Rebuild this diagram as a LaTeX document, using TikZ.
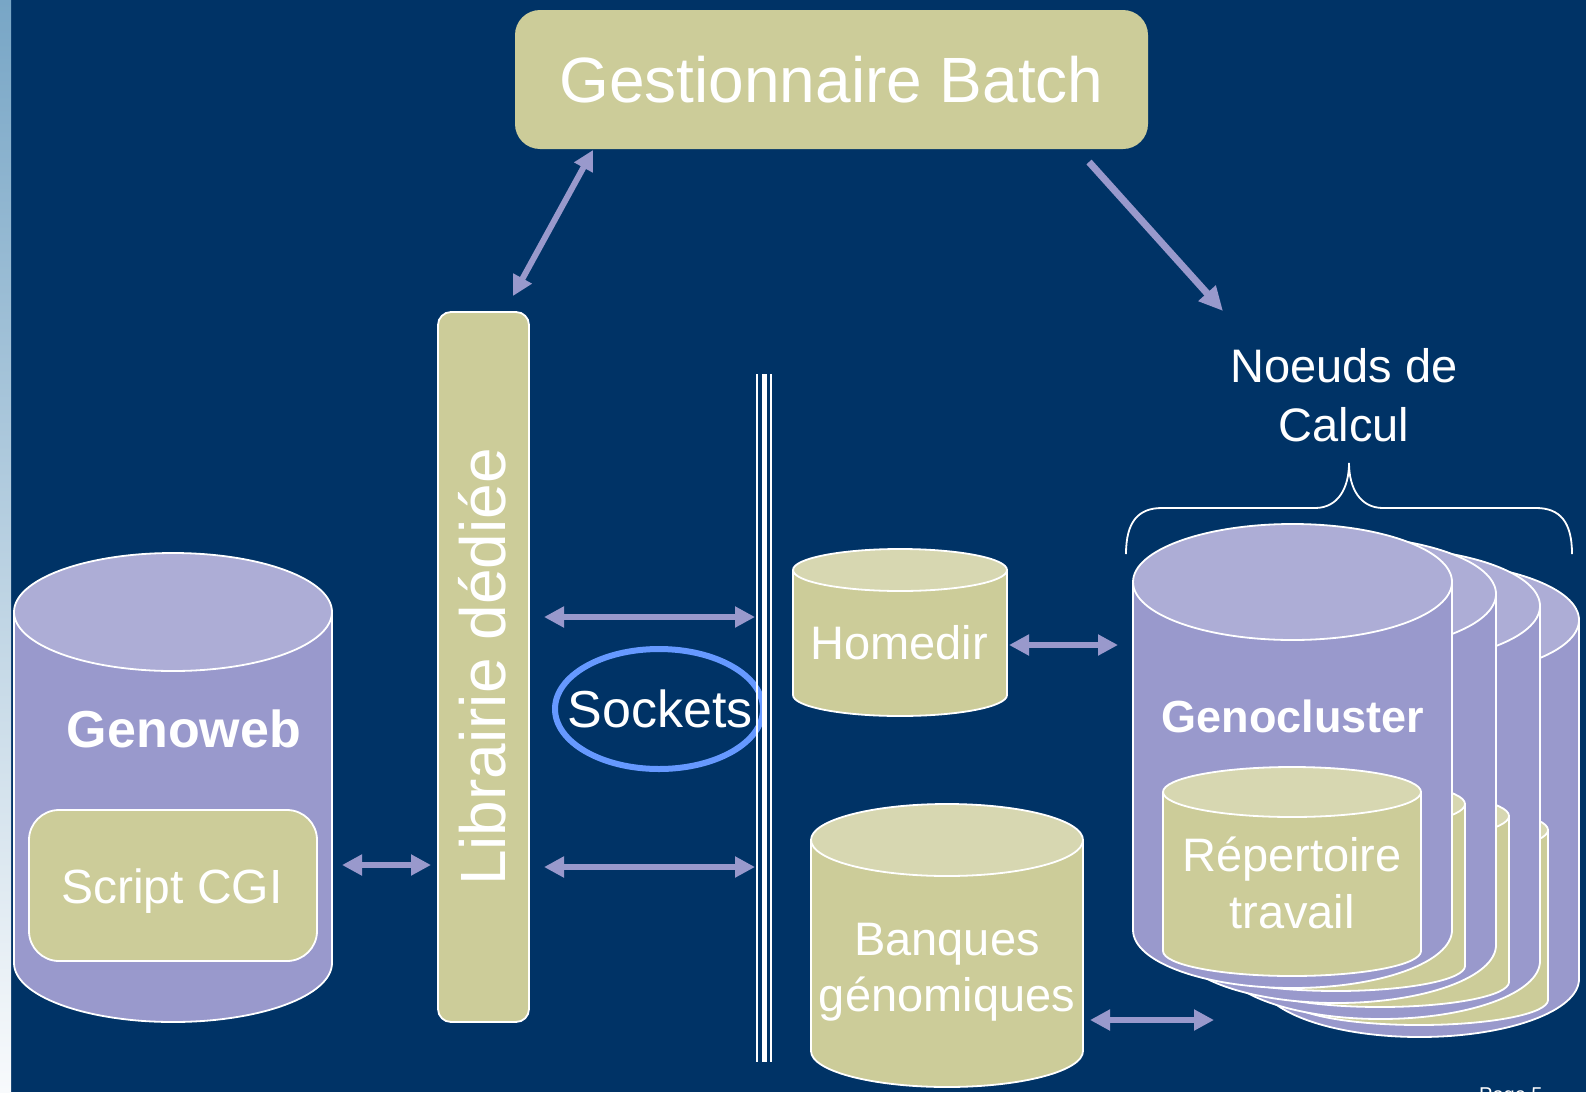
\documentclass[tikz,border=0pt]{standalone}
\usepackage{fontspec}
\setmainfont{Liberation Sans}
\usetikzlibrary{arrows.meta,shapes.geometric}
\definecolor{bg}{HTML}{003366}
\definecolor{lav}{HTML}{9999CC}
\definecolor{lavtop}{HTML}{ADADD6}
\definecolor{khaki}{HTML}{CCCC99}
\definecolor{khakitop}{HTML}{D7D7B1}
\definecolor{sockblue}{HTML}{6699FF}
\definecolor{stripetop}{HTML}{78A6C6}
\definecolor{stripebot}{HTML}{F8FAFC}
\newcommand{\fsz}[1]{\fontsize{#1}{#1}\selectfont}
% cylinder: cx, rx, y of top ellipse centre, y of bottom ellipse centre, ry, side colour, top colour
\newcommand{\cylinder}[7]{%
  \fill[#6] (#1-#2,#3) rectangle (#1+#2,#4);
  \fill[#6] (#1,#4) ellipse [x radius=#2, y radius=#5];
  \draw[outline] (#1-#2,#3) -- (#1-#2,#4) arc[start angle=180, end angle=0, x radius=#2, y radius=#5] -- (#1+#2,#3);
  \filldraw[outline, fill=#7] (#1,#3) ellipse [x radius=#2, y radius=#5];
}
\begin{document}
\begin{tikzpicture}[x=1pt,y=-1pt,
  outline/.style={draw=white, line width=1.8pt},
  arr/.style={draw=lav, line width=6pt, -{Triangle[length=20pt,width=20pt]}},
  darr/.style={draw=lav, line width=6pt, {Triangle[length=20pt,width=20pt]}-{Triangle[length=20pt,width=20pt]}},
  lbl/.style={text=white, inner sep=0pt},
  wall/.style={draw=white}
]
\useasboundingbox (0,0) rectangle (1586,1092);
\fill[bg] (0,0) rectangle (1586,1092);
\shade[top color=stripetop, bottom color=stripebot] (0,0) rectangle (11,1092);

% Gestionnaire Batch
\node[rectangle, rounded corners=25pt, fill=khaki, minimum width=633pt, minimum height=139pt,
      text=white, font=\fsz{64}, inner sep=0pt] (gest) at (831.5,79.5) {Gestionnaire Batch};

% Librairie dediee
\node[rectangle, rounded corners=13pt, fill=khaki, draw=white, line width=1.8pt,
      minimum width=91pt, minimum height=710pt, inner sep=0pt] (lib) at (483.5,667) {};
\node[lbl, rotate=90, anchor=base, font=\fsz{64}] (libtxt) at (505,667) {Librairie dédiée};

% Genoweb
\cylinder{173}{159}{612}{963}{59}{lav}{lavtop}
\node[lbl, anchor=base, font=\bfseries\fsz{52}] (genoweb) at (184,747) {Genoweb};
\node[rectangle, rounded corners=30pt, fill=khaki, draw=white, line width=1.8pt,
      minimum width=288pt, minimum height=151pt, inner sep=0pt] (cgi) at (173,885.5) {};
\node[lbl, anchor=base, font=\fsz{48}] (cgitxt) at (172,903) {Script CGI};

% Sockets
\node[ellipse, draw=sockblue, line width=6pt, minimum width=208pt, minimum height=120pt, inner sep=0pt] (sockring) at (659,709) {};
\node[lbl, font=\fsz{52}] (sock) at (660,708.5) {Sockets};

% wall (triple line)
\coordinate (wt) at (764,374);
\coordinate (wb) at (764,1062);
\draw[wall, line width=2pt] ([xshift=-7pt]wt) -- ([xshift=-7pt]wb);
\draw[wall, line width=5pt] (wt) -- (wb);
\draw[wall, line width=2pt] ([xshift=6.5pt]wt) -- ([xshift=6.5pt]wb);

% Homedir
\cylinder{900}{107}{570}{695}{21}{khaki}{khakitop}
\node[lbl, anchor=base, font=\fsz{47}] (homedir) at (899,659) {Homedir};

% Banques genomiques
\cylinder{947}{136}{840}{1051}{36}{khaki}{khakitop}
\node[lbl, align=center, font=\fontsize{47}{56}\selectfont] (banques) at (947,972) {Banques\\génomiques};

% Genocluster stack
\foreach \dx/\dy/\by in {127/38/49, 88/24/31, 44/12/15, 0/0/0} {
  \cylinder{1292.5+\dx}{159.5}{582+\dy}{930+\by}{58}{lav}{lavtop}
  \cylinder{1292+\dx}{129}{792+\dy}{951+\by}{25}{khaki}{khakitop}
}
\node[lbl, anchor=base, font=\bfseries\fsz{45}] (genocluster) at (1293,732) {Genocluster};
\node[lbl, align=center, font=\fontsize{47}{57}\selectfont] (rep) at (1292,883) {Répertoire\\travail};

% Noeuds de Calcul + brace
\node[lbl, align=center, font=\fontsize{47}{59}\selectfont] (noeuds) at (1344,395.5) {Noeuds de\\Calcul};
\draw[white, line width=1.8pt] (1126,554) .. controls (1126,522) and (1138,508) .. (1162,508)
  -- (1315,508) .. controls (1338,508) and (1349,488) .. (1349,463)
  .. controls (1349,488) and (1360,508) .. (1383,508)
  -- (1536,508) .. controls (1560,508) and (1572,522) .. (1572,554);

% Page number (cut off at the bottom edge, as in the reference)
\node[text=white, inner sep=0pt, anchor=base west, font=\fsz{20}] (page) at (1479,1101) {Page 5};

% connector end points
\coordinate (gestL) at (593,150);
\coordinate (libT) at (513,296);
\coordinate (gestR) at (1089,162);
\coordinate (noeudsT) at (1223,311);
\coordinate (libR1) at (544,617);
\coordinate (wallL1) at (755,617);
\coordinate (libR2) at (544,867);
\coordinate (wallL2) at (755,867);
\coordinate (cgiR) at (342,865);
\coordinate (libL) at (431,865);
\coordinate (homeR) at (1009,645);
\coordinate (clusterL1) at (1118,645);
\coordinate (banqR) at (1090,1020);
\coordinate (clusterL2) at (1214,1020);

% connectors
\draw[darr] (gestL) -- (libT);
\draw[draw=lav, line width=7pt, -{Triangle[length=24pt,width=22pt]}] (gestR) -- (noeudsT);
\draw[darr] (libR1) -- (wallL1);
\draw[darr] (libR2) -- (wallL2);
\draw[darr] (cgiR) -- (libL);
\draw[darr] (homeR) -- (clusterL1);
\draw[darr] (banqR) -- (clusterL2);
\end{tikzpicture}
\end{document}
